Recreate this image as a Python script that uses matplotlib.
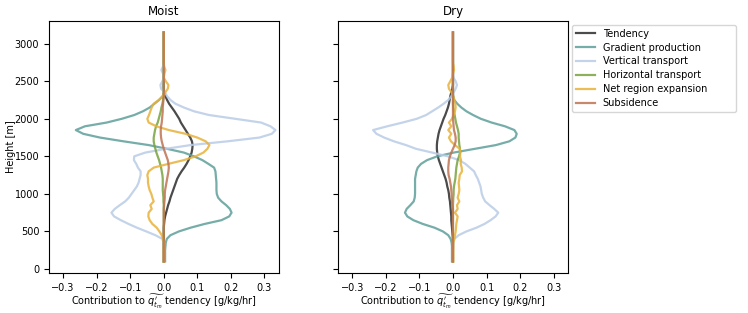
import numpy as np
import matplotlib
matplotlib.use("Agg")
import matplotlib.pyplot as plt

plt.rcParams["font.size"] = 7

# Height levels [m]
height = np.arange(100, 3151, 50)

# ---- Moist region terms [g/kg/hr] ----
moist_tendency = [0, 0, 0, 0, 0, 0, 0, 0, 0, 0, 0.001, 0.002, 0.004, 0.007, 0.010, 0.013,
                  0.017, 0.020, 0.024, 0.028, 0.032, 0.036, 0.040, 0.046, 0.053, 0.061, 0.068,
                  0.074, 0.079, 0.083, 0.085, 0.086, 0.084, 0.079, 0.072, 0.065, 0.058, 0.051,
                  0.046, 0.039, 0.032, 0.024, 0.016, 0.010, 0.005, 0.001, 0, 0, 0, 0, 0, 0,
                  0, 0, 0, 0, 0, 0, 0, 0, 0, 0]
moist_gradient = [0.004, 0.004, 0.004, 0.004, 0.005, 0.006, 0.009, 0.020, 0.045, 0.080, 0.122,
                  0.172, 0.195, 0.202, 0.197, 0.186, 0.172, 0.162, 0.158, 0.157, 0.157, 0.157,
                  0.156, 0.155, 0.154, 0.150, 0.133, 0.115, 0.090, 0.060, 0.010, -0.045, -0.120,
                  -0.190, -0.240, -0.262, -0.235, -0.170, -0.125, -0.088, -0.062, -0.042,
                  -0.028, -0.014, -0.003, 0, 0, 0, 0, 0, 0, 0, 0, 0, 0, 0, 0, 0, 0, 0, 0, 0]
moist_vertical = [0, 0, 0, 0, 0, -0.001, -0.004, -0.025, -0.052, -0.080, -0.105, -0.128, -0.148,
                  -0.156, -0.146, -0.131, -0.115, -0.104, -0.096, -0.088, -0.080, -0.075, -0.072,
                  -0.069, -0.069, -0.077, -0.082, -0.089, -0.088, -0.055, 0.006, 0.080, 0.190,
                  0.285, 0.322, 0.333, 0.318, 0.290, 0.213, 0.135, 0.090, 0.060, 0.035, 0.020,
                  0.010, 0.004, -0.008, -0.010, -0.004, 0, -0.002, -0.007, -0.002, 0, 0, 0, 0,
                  0, 0, 0, 0, 0]
moist_horizontal = [0, 0, 0, 0, 0, 0, 0, 0, 0, 0, 0, 0, 0, 0, 0, 0, -0.001, -0.001, -0.002,
                    -0.003, -0.003, -0.003, -0.003, -0.004, -0.006, -0.008, -0.011, -0.014,
                    -0.018, -0.022, -0.025, -0.028, -0.030, -0.030, -0.028, -0.026, -0.023,
                    -0.018, -0.015, -0.012, -0.009, -0.007, -0.004, -0.002, -0.001, 0, 0, 0, 0,
                    0, 0, 0, 0, 0, 0, 0, 0, 0, 0, 0, 0, 0]
moist_expansion = [0, 0, 0, 0, 0, 0.001, -0.002, -0.006, -0.013, -0.021, -0.034, -0.042, -0.046,
                   -0.045, -0.036, -0.040, -0.030, -0.034, -0.037, -0.042, -0.045, -0.047,
                   -0.047, -0.049, -0.045, -0.030, 0.014, 0.060, 0.095, 0.118, 0.130, 0.136,
                   0.125, 0.100, 0.065, 0.015, -0.022, -0.045, -0.049, -0.044, -0.040, -0.036,
                   -0.030, -0.015, -0.004, 0.004, 0.012, 0.014, 0.006, 0, 0.002, 0.005, 0.001,
                   0, 0, 0, 0, 0, 0, 0, 0, 0]
moist_subsidence = [0, 0, 0, 0, 0, 0, 0, 0, 0, 0, 0, 0, 0, 0, 0, 0.001, 0.002, 0.003, 0.003,
                    0.004, 0.006, 0.008, 0.010, 0.012, 0.014, 0.015, 0.014, 0.012, 0.008, 0.004,
                    0, -0.003, -0.006, -0.008, -0.009, -0.009, -0.008, -0.006, -0.005, -0.004,
                    -0.003, -0.003, -0.002, -0.001, 0, 0, 0, 0, 0, 0, 0, 0, 0, 0, 0, 0, 0, 0, 0,
                    0, 0, 0]

# ---- Dry region terms [g/kg/hr] ----
dry_tendency = [0, 0, 0, 0, 0, 0, 0, -0.001, -0.002, -0.003, -0.004, -0.005, -0.005, -0.006,
                -0.007, -0.008, -0.009, -0.011, -0.012, -0.014, -0.017, -0.019, -0.022, -0.026,
                -0.030, -0.034, -0.038, -0.042, -0.045, -0.047, -0.048, -0.048, -0.047, -0.045,
                -0.043, -0.040, -0.036, -0.032, -0.028, -0.023, -0.019, -0.015, -0.012, -0.010,
                -0.008, -0.005, -0.002, 0, 0, 0, 0, 0, 0, 0, 0, 0, 0, 0, 0, 0, 0, 0]
dry_gradient = [-0.003, -0.003, -0.003, -0.003, -0.003, -0.004, -0.007, -0.014, -0.030, -0.055,
                -0.090, -0.118, -0.136, -0.143, -0.138, -0.127, -0.117, -0.114, -0.113, -0.113,
                -0.113, -0.113, -0.113, -0.111, -0.109, -0.105, -0.095, -0.077, -0.047, 0.002,
                0.065, 0.128, 0.168, 0.186, 0.190, 0.183, 0.155, 0.115, 0.083, 0.060, 0.040,
                0.025, 0.013, 0.004, 0.001, 0, 0, 0, 0, 0, 0, 0, 0, 0, 0, 0, 0, 0, 0, 0, 0, 0]
dry_vertical = [0, 0, 0, 0, 0.001, 0.002, 0.004, 0.017, 0.040, 0.070, 0.094, 0.112, 0.127, 0.135,
                0.123, 0.109, 0.096, 0.090, 0.086, 0.084, 0.082, 0.078, 0.074, 0.068, 0.063,
                0.050, 0.037, 0.018, -0.015, -0.062, -0.110, -0.140, -0.176, -0.205, -0.228,
                -0.238, -0.196, -0.150, -0.108, -0.080, -0.062, -0.044, -0.028, -0.014, -0.005,
                0.002, 0.008, 0.012, 0.008, 0.001, 0, 0, 0, 0, 0, 0, 0, 0, 0, 0, 0, 0]
dry_horizontal = [0, 0, 0, 0, 0, 0, 0, 0, 0, 0, 0, 0, 0, 0, 0, 0, 0.0005, 0.001, 0.002, 0.002,
                  0.003, 0.005, 0.007, 0.008, 0.009, 0.010, 0.012, 0.014, 0.018, 0.021, 0.021,
                  0.019, 0.018, 0.017, 0.017, 0.015, 0.012, 0.009, 0.007, 0.005, 0.003, 0.001,
                  0, 0, 0, 0, 0, 0, 0, 0, 0, 0, 0, 0, 0, 0, 0, 0, 0, 0, 0, 0]
dry_expansion = [0.001, 0.001, 0.001, 0.001, 0.001, 0.001, 0.004, 0.006, 0.008, 0.009, 0.010,
                 0.012, 0.014, 0.006, 0.014, 0.012, 0.019, 0.014, 0.017, 0.019, 0.018, 0.017,
                 0.019, 0.020, 0.027, 0.026, 0.023, 0.024, 0.021, 0.022, 0.020, 0.006, -0.006,
                 -0.012, -0.005, -0.014, -0.005, -0.012, -0.003, 0.002, 0.006, 0.008, 0.007,
                 0.004, 0.001, -0.004, -0.012, -0.014, -0.008, -0.002, 0, 0.003, 0.002, 0, 0,
                 0, 0, 0, 0, 0, 0, 0]
dry_subsidence = [0, 0, 0, 0, 0, 0, 0, 0, 0, 0, 0, 0, 0, 0, 0, -0.002, -0.003, -0.004, -0.004,
                  -0.005, -0.006, -0.008, -0.010, -0.013, -0.014, -0.014, -0.013, -0.012, -0.009,
                  -0.005, 0, 0.005, 0.008, 0.008, 0.006, 0.003, 0.002, 0.001, 0, 0, 0, 0, 0, 0,
                  0, 0, 0, 0, 0, 0, 0, 0, 0, 0, 0, 0, 0, 0, 0, 0, 0, 0]

labels = ["Tendency", "Gradient production", "Vertical transport",
          "Horizontal transport", "Net region expansion", "Subsidence"]
colors = ["#2b2b2b", "#5e9f9a", "#b9cce6", "#78a23e", "#e8b23a", "#bf7352"]

moist = [moist_tendency, moist_gradient, moist_vertical,
         moist_horizontal, moist_expansion, moist_subsidence]
dry = [dry_tendency, dry_gradient, dry_vertical,
       dry_horizontal, dry_expansion, dry_subsidence]

fig, axes = plt.subplots(1, 2, figsize=(7.48, 3.13), dpi=100, sharey=True)
fig.subplots_adjust(left=0.0655, right=0.759, bottom=0.128, top=0.933, wspace=0.26)

for ax, terms, title in zip(axes, [moist, dry], ["Moist", "Dry"]):
    for vals, lab, col in zip(terms, labels, colors):
        ax.plot(vals, height, color=col, lw=1.6, alpha=0.85, label=lab)
    ax.set_title(title, fontsize=8.5, pad=4)
    ax.set_xlim(-0.342, 0.342)
    ax.set_xticks([-0.3, -0.2, -0.1, 0.0, 0.1, 0.2, 0.3])
    ax.set_xlabel(r"Contribution to $\widetilde{q_{t_m}'}$ tendency [g/kg/hr]", labelpad=0)
    ax.tick_params(labelsize=7)

axes[0].set_yticks(np.arange(0, 3001, 500))
axes[0].set_ylabel("Height [m]")
axes[0].yaxis.set_label_coords(-0.145, 0.5)
axes[1].tick_params(labelleft=False)

axes[1].legend(loc="upper left", bbox_to_anchor=(1.017, 0.985, 0.716, 0), mode="expand",
               borderaxespad=0, fontsize=7, labelspacing=0.4, handlelength=2.0)

plt.savefig("out.png", dpi=100)
